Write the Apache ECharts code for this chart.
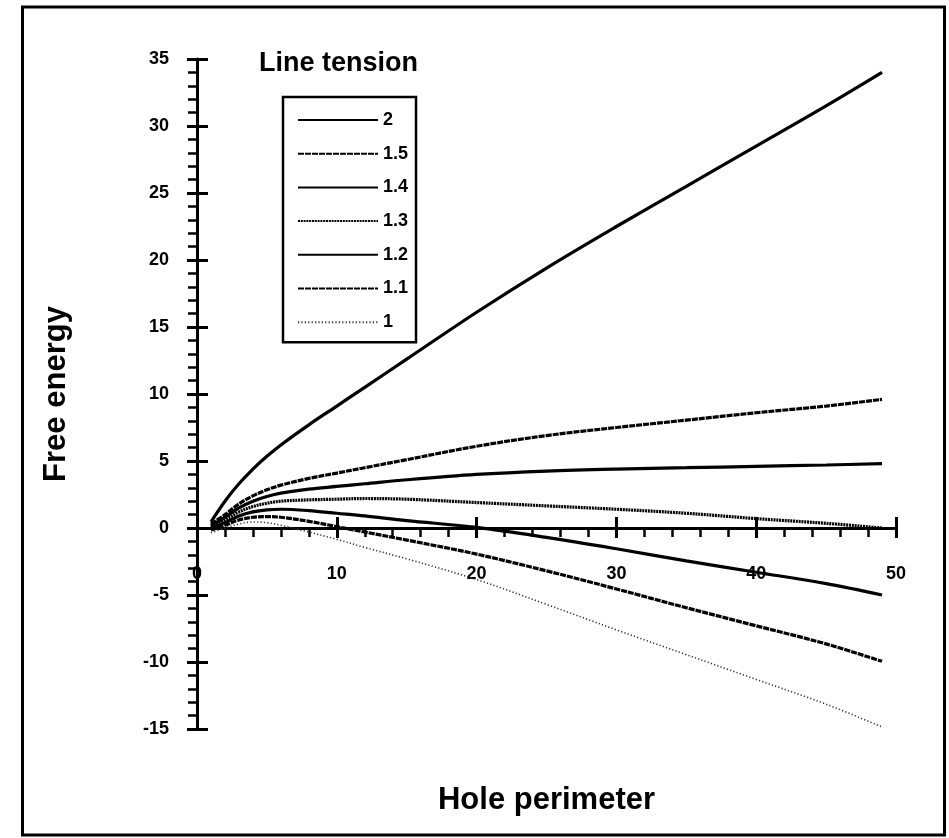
<!DOCTYPE html>
<html>
<head>
<meta charset="utf-8">
<script src="https://cdn.jsdelivr.net/npm/echarts@6/dist/echarts.min.js"></script>
<style>
html,body{margin:0;padding:0;background:#fff;}
#chart{width:949px;height:838px;}
</style>
</head>
<body>
<div id="chart"></div>
<script>
// ---- data ----
const perimeter = [1, 2, 3, 4, 5, 6, 8, 10, 12, 15, 20, 25, 30, 35, 40, 45, 49];
const tension2  = [0.45, 2.0, 3.3, 4.4, 5.35, 6.2, 7.7, 9.1, 10.5, 12.6, 16.1, 19.4, 22.5, 25.5, 28.5, 31.5, 34.0];
const tension15 = [0.3, 1.0, 1.8, 2.4, 2.85, 3.2, 3.7, 4.1, 4.5, 5.1, 6.1, 6.9, 7.5, 8.05, 8.6, 9.1, 9.6];
const tension14 = [0.2, 0.8, 1.5, 2.0, 2.35, 2.6, 2.9, 3.1, 3.3, 3.6, 4.0, 4.25, 4.4, 4.5, 4.6, 4.7, 4.8];
const tension13 = [0.1, 0.6, 1.2, 1.6, 1.85, 2.0, 2.1, 2.15, 2.2, 2.15, 1.9, 1.65, 1.4, 1.1, 0.7, 0.35, 0.0];
const tension12 = [0.0, 0.4, 0.9, 1.2, 1.35, 1.4, 1.3, 1.1, 0.9, 0.55, 0.05, -0.7, -1.55, -2.45, -3.3, -4.15, -5.0];
const tension11 = [-0.15, 0.2, 0.6, 0.8, 0.85, 0.8, 0.5, 0.1, -0.3, -0.9, -1.95, -3.2, -4.55, -5.95, -7.3, -8.65, -9.95];
const tension10 = [-0.35, 0.0, 0.3, 0.45, 0.4, 0.2, -0.3, -0.85, -1.45, -2.3, -3.85, -5.7, -7.6, -9.45, -11.3, -13.15, -14.85];

const seriesNames = ['2', '1.5', '1.4', '1.3', '1.2', '1.1', '1'];
const seriesValues = [tension2, tension15, tension14, tension13, tension12, tension11, tension10];

const xMin = 0, xMax = 50, xStep = 10;
const yMin = -15, yMax = 35, yStep = 5;

const legendTitle = 'Line tension';
const xTitle = 'Hole perimeter';
const yTitle = 'Free energy';

// ---- styles ----
const FONT = '"Liberation Sans", Arial, Helvetica, sans-serif';
const lineStyles = [
  {color: '#000', width: 3.2, type: 'solid'},
  {color: '#000', width: 3.2, type: [6, 1]},
  {color: '#000', width: 3.2, type: 'solid'},
  {color: '#000', width: 3.2, type: [2, 0.8]},
  {color: '#000', width: 3.2, type: 'solid'},
  {color: '#000', width: 3.2, type: [6, 1]},
  {color: '#333', width: 1.6, type: [1.2, 2.2]}
];

const chart = echarts.init(document.getElementById('chart'), null, {renderer: 'canvas'});

const labelStyle = {fontFamily: FONT, fontWeight: 'bold', fontSize: 18, color: '#000'};

const option = {
  backgroundColor: '#fff',
  animation: false,
  title: {
    text: legendTitle,
    left: 259, top: 50, padding: 0,
    textStyle: {fontFamily: FONT, fontWeight: 'bold', fontSize: 27, color: '#000'}
  },
  legend: {
    orient: 'vertical',
    left: 283, top: 97,
    padding: [13, 8, 10, 14],
    itemWidth: 80, itemHeight: 20, itemGap: 13.7,
    borderColor: '#000', borderWidth: 2.5,
    data: seriesNames,
    itemStyle: {opacity: 0, color: 'transparent', borderWidth: 0},
    textStyle: Object.assign({lineHeight: 20}, labelStyle)
  },
  grid: {left: 197, right: 53, top: 59, bottom: 109, containLabel: false, outerBoundsMode: 'none'},
  xAxis: [
    {
      type: 'value', min: xMin, max: xMax, interval: xStep,
      position: 'bottom',
      axisLine: {show: true, onZero: false, lineStyle: {color: '#000', width: 3}},
      axisTick: {show: true, inside: false, length: 10, lineStyle: {color: '#000', width: 3}},
      minorTick: {show: true, splitNumber: 5, length: 9, lineStyle: {color: '#000', width: 2.5}},
      splitLine: {show: false}, minorSplitLine: {show: false},
      axisLabel: Object.assign({margin: 37}, labelStyle),
      name: xTitle, nameLocation: 'middle', nameGap: 257,
      nameTextStyle: {fontFamily: FONT, fontWeight: 'bold', fontSize: 31, color: '#000'}
    },
    {
      type: 'value', min: xMin, max: xMax, interval: xStep,
      position: 'bottom',
      axisLine: {show: false, onZero: false},
      axisTick: {show: true, inside: true, length: 11, lineStyle: {color: '#000', width: 3}},
      splitLine: {show: false}, axisLabel: {show: false}
    }
  ],
  yAxis: [
    {
      type: 'value', min: yMin, max: yMax, interval: yStep,
      position: 'left',
      axisLine: {show: true, onZero: false, lineStyle: {color: '#000', width: 3}},
      axisTick: {show: true, inside: false, length: 10, lineStyle: {color: '#000', width: 3}},
      minorTick: {show: true, splitNumber: 5, length: 9, lineStyle: {color: '#000', width: 2.5}},
      splitLine: {show: false}, minorSplitLine: {show: false},
      axisLabel: Object.assign({margin: 28}, labelStyle),
      name: yTitle, nameLocation: 'middle', nameGap: 125,
      nameTextStyle: {fontFamily: FONT, fontWeight: 'bold', fontSize: 31, color: '#000'}
    },
    {
      type: 'value', min: yMin, max: yMax, interval: yStep,
      position: 'left',
      axisLine: {show: false, onZero: false},
      axisTick: {show: true, inside: true, length: 11, lineStyle: {color: '#000', width: 3}},
      splitLine: {show: false}, axisLabel: {show: false}
    }
  ],
  graphic: [
    {type: 'rect', silent: true, shape: {x: 22.5, y: 7, width: 922, height: 828},
     style: {fill: 'none', stroke: '#000', lineWidth: 3}}
  ],
  series: seriesNames.map((name, i) => ({
    name: name,
    type: 'line',
    xAxisIndex: 0, yAxisIndex: 0,
    data: perimeter.map((x, j) => [x, seriesValues[i][j]]),
    symbol: 'none', showSymbol: false,
    smooth: 0.35,
    lineStyle: lineStyles[i],
    itemStyle: {color: lineStyles[i].color},
    emphasis: {disabled: true}
  }))
};

chart.setOption(option);

// move the x axes up so they cross the y axis at zero (position from the library's own scale)
const zeroY = chart.convertToPixel({yAxisIndex: 0}, 0);
const bottomY = chart.convertToPixel({yAxisIndex: 0}, yMin);
const shift = zeroY - bottomY;
chart.setOption({xAxis: [{offset: shift}, {offset: shift}]});
</script>
</body>
</html>
